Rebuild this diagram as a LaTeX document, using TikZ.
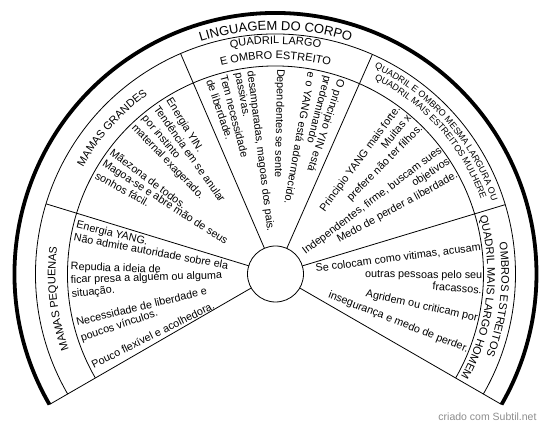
\documentclass[tikz,border=0pt]{standalone}
\usepackage{fontspec}
\setmainfont{Liberation Sans}
\usetikzlibrary{decorations.text}
\newcommand\mybodyfont{\fontsize{10.8}{12}\selectfont}
\newcommand\mylabfont{\fontsize{11}{12}\selectfont}
\newcommand\mysmlabfont{\fontsize{9}{10}\selectfont}
\newcommand\mytitfont{\fontsize{13}{14}\selectfont}
\newcommand\inl[3]{\node[inw=#2] (#1) at (#2:205) {#3};}
\newcommand\outl[3]{\node[outw=#2] (#1) at (#2:207) {#3};}
\newcommand\arclab[5]{\path[decorate, decoration={text along path, text align=center, text={|#1|#2}}] (#4:#3) arc[start angle=#4, end angle=#5, radius=#3pt];}
\begin{document}
\begin{tikzpicture}[x=1pt,y=1pt,
  body/.style={font=\mybodyfont, inner sep=0pt},
  inw/.style={body, anchor=west, rotate=#1+180},
  outw/.style={body, anchor=east, rotate=#1},
  thinln/.style={line width=0.8pt},
  thickln/.style={line width=3.8pt}]
\useasboundingbox (-275.5,-154) rectangle (274.5,274);
% rings
\draw[thickln] (210:261) arc[start angle=210, end angle=-30, radius=261pt];
\draw[thinln] (210:240) arc[start angle=210, end angle=-30, radius=240pt];
\draw[thinln] (210:208) arc[start angle=210, end angle=-30, radius=208pt];
\draw[thinln] (0,0) circle[radius=28pt];
% edges and dividers
\draw[thinln] (210:28) -- (210:261);
\draw[thinln] (-30:28) -- (-30:261);
\foreach \a in {113.3,66.2,163,16.8} \draw[thinln] (\a:28) -- (\a:240);
% title and labels
\arclab{\mytitfont}{LINGUAGEM DO CORPO}{244}{135}{45}
\arclab{\mylabfont}{QUADRIL LARGO}{230}{112}{68}
\arclab{\mylabfont}{E OMBRO ESTREITO}{215}{112}{68}
\arclab{\mylabfont}{MAMAS GRANDES}{220}{161}{115.4}
\arclab{\mylabfont}{MAMAS PEQUENAS}{220}{209}{164}
\arclab{\mysmlabfont}{QUADRIL  E OMBRO MESMA LARGURA OU}{228.5}{64.5}{18.5}
\arclab{\mysmlabfont}{QUADRIL MAIS ESTREITOS MULHERE}{218.5}{64.5}{18.5}
\arclab{\mylabfont}{OMBROS ESTREITOS}{226}{16.4}{-29.6}
\arclab{\mylabfont}{QUADRIL MAIS LARGO HOMEM}{212}{16.4}{-29.6}
% sector 1
\inl{s1a}{71.4}{O principio YIN está}
\inl{s1b}{75.4}{predominando}
\inl{s1c}{79.8}{e o YANG está adormecido.}
\inl{s1d}{88.7}{Dependentes se sente}
\inl{s1e}{97.1}{desamparadas, magoas dos pais.}
\inl{s1f}{100.6}{passivas.}
\inl{s1g}{104.6}{Tem necessidade}
\inl{s1h}{108.7}{de liberdade.}
% sector 2
\inl{s2a}{121.5}{Energia YIN.}
\inl{s2b}{125.5}{Tendência em se anular}
\inl{s2c}{130.0}{por instinto}
\inl{s2d}{133.9}{maternal exagerado.}
\inl{s2e}{143.2}{Mãezona de todos.}
\inl{s2f}{147.2}{Magoa-se e abre mão de seus}
\inl{s2g}{151.0}{sonhos fácil.}
% sector 3
\inl{s3a}{166.2}{Energia YANG.}
\inl{s3b}{169.6}{Não admite autoridade sobre ela}
\inl{s3c}{178.1}{Repudia a ideia de}
\inl{s3d}{181.8}{ficar presa a alguém ou alguma}
\inl{s3e}{185.8}{situação.}
\inl{s3f}{193.6}{Necessidade de liberdade e}
\inl{s3g}{198.4}{poucos vínculos.}
\inl{s3h}{206.4}{Pouco flexível e acolhedora.}
% sector 4
\outl{s4a}{53.5}{Principio YANG mais forte.}
\outl{s4b}{49.9}{Muitas x}
\outl{s4c}{45.3}{prefere não ter filhos.}
\outl{s4d}{37.0}{Independentes, firme, buscam sues}
\outl{s4e}{33.0}{objetivos}
\outl{s4f}{28.6}{Medo de perder a liberdade.}
% sector 5
\outl{s5a}{7.4}{Se colocam como vitimas, acusam}
\outl{s5b}{-0.5}{outras pessoas pelo seu}
\outl{s5c}{-4.4}{fracassos.}
\outl{s5d}{-12.4}{Agridem ou criticam por}
\outl{s5e}{-21.5}{insegurança e medo de perder.}
% watermark
\node[font=\fontsize{10.5}{12}\selectfont, text=black!45] (wm) at (212,-143) {criado com Subtil.net};
\end{tikzpicture}
\end{document}
